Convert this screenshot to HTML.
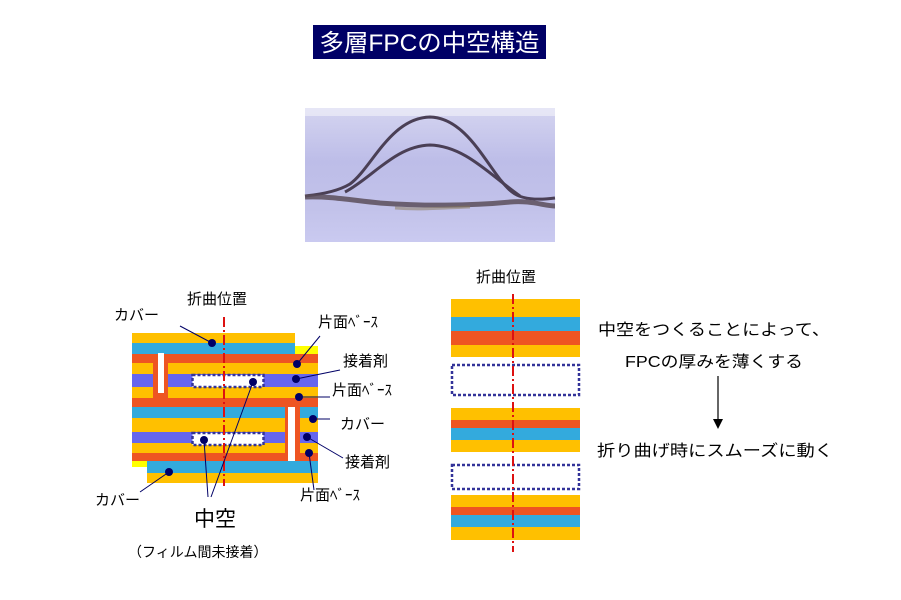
<!DOCTYPE html>
<html><head><meta charset="utf-8"><style>
html,body{margin:0;padding:0;background:#fff;}
svg{display:block;font-family:"Liberation Sans","Noto Sans CJK JP",sans-serif;}
</style></head><body>
<svg width="901" height="600" viewBox="0 0 901 600" xmlns="http://www.w3.org/2000/svg">
<defs>
<linearGradient id="bg" x1="0" y1="0" x2="0" y2="1">
<stop offset="0" stop-color="#d4d4f0"/><stop offset="0.4" stop-color="#bdbde8"/><stop offset="0.75" stop-color="#c2c2ea"/><stop offset="1" stop-color="#cacaf0"/>
</linearGradient>
</defs>
<!-- title -->
<rect x="313" y="25" width="233" height="34" fill="#000066"/>
<text x="429.5" y="51" font-size="24" fill="#fff" text-anchor="middle" textLength="220" lengthAdjust="spacingAndGlyphs">多層FPCの中空構造</text>
<!-- photo -->
<rect x="305" y="108" width="250" height="134" fill="url(#bg)"/>
<rect x="305" y="108" width="250" height="8" fill="#eeeef8" opacity="0.7"/>
<path d="M305,196 C325,194 340,190 350,184 C372,168 390,118 430,117 C470,118 490,175 512,192 C522,200 540,200 555,198" fill="none" stroke="#4a3f55" stroke-width="3"/>
<path d="M345,192 C372,178 395,146 430,145 C465,146 490,175 520,196" fill="none" stroke="#4a3f55" stroke-width="3"/>
<path d="M305,197 C330,196 350,200 380,203 C420,206 470,206 510,202 C530,200 545,206 555,206" fill="none" stroke="#5a4d5a" stroke-width="5" opacity="0.85"/>
<path d="M395,208 C420,210 440,208 470,207" fill="none" stroke="#8a7a55" stroke-width="3" opacity="0.5"/>

<!-- left diagram -->
<g>
<rect x="132" y="333" width="163" height="10" fill="#ffc000"/>
<rect x="132" y="343" width="163" height="11" fill="#33aadd"/>
<rect x="295" y="346" width="23" height="8" fill="#ffff00"/>
<rect x="132" y="354" width="186" height="9" fill="#ee5522"/>
<rect x="132" y="363" width="186" height="11" fill="#ffc000"/>
<rect x="132" y="374" width="186" height="13" fill="#6666ee"/>
<rect x="132" y="387" width="186" height="11" fill="#ffc000"/>
<rect x="132" y="398" width="186" height="9" fill="#ee5522"/>
<rect x="132" y="407" width="186" height="11" fill="#33aadd"/>
<rect x="132" y="418" width="186" height="14" fill="#ffc000"/>
<rect x="132" y="432" width="186" height="11" fill="#6666ee"/>
<rect x="132" y="443" width="186" height="10" fill="#ffc000"/>
<rect x="132" y="453" width="186" height="8" fill="#ee5522"/>
<rect x="132" y="461" width="15" height="6" fill="#ffff00"/>
<rect x="147" y="461" width="171" height="12" fill="#33aadd"/>
<rect x="147" y="473" width="171" height="10" fill="#ffc000"/>
<rect x="153" y="354" width="15" height="53" fill="#ee5522"/>
<rect x="158" y="353" width="6" height="40" fill="#fff"/>
<rect x="285" y="403" width="15" height="58" fill="#ee5522"/>
<rect x="288" y="407" width="7" height="54" fill="#fff"/>
<rect x="192.5" y="375" width="71" height="12" fill="#fff" stroke="#333399" stroke-width="2.5" stroke-dasharray="3,2"/>
<rect x="192.5" y="433" width="71" height="12" fill="#fff" stroke="#333399" stroke-width="2.5" stroke-dasharray="3,2"/>
<line x1="224" y1="317" x2="224" y2="486" stroke="#dd1111" stroke-width="2" stroke-dasharray="10,3,2,3"/>
<g stroke="#000066" stroke-width="1" fill="none">
<line x1="180" y1="326" x2="212" y2="343"/>
<line x1="320" y1="336" x2="297" y2="364"/>
<line x1="340" y1="370" x2="296" y2="379"/>
<line x1="330" y1="397" x2="299" y2="397"/>
<line x1="330" y1="419" x2="313" y2="419"/>
<line x1="343" y1="458" x2="307" y2="437"/>
<line x1="314" y1="490" x2="309" y2="453"/>
<line x1="140" y1="492" x2="169" y2="472"/>
<line x1="208" y1="497" x2="204" y2="440"/>
<line x1="211" y1="497" x2="253" y2="382"/>
</g>
<g fill="#000066">
<circle cx="212" cy="343" r="4"/><circle cx="297" cy="364" r="4"/><circle cx="296" cy="379" r="4"/>
<circle cx="299" cy="397" r="4"/><circle cx="313" cy="419" r="4"/><circle cx="307" cy="437" r="4"/>
<circle cx="309" cy="453" r="4"/><circle cx="169" cy="472" r="4"/><circle cx="253" cy="382" r="4"/>
<circle cx="204" cy="440" r="4"/>
</g>
</g>
<g font-size="15" fill="#000">
<text x="114" y="320">カバー</text>
<text x="187" y="304">折曲位置</text>
<text x="318" y="327">片面ﾍﾞｰｽ</text>
<text x="343" y="366">接着剤</text>
<text x="332" y="395">片面ﾍﾞｰｽ</text>
<text x="340" y="429">カバー</text>
<text x="345" y="467">接着剤</text>
<text x="300" y="500">片面ﾍﾞｰｽ</text>
<text x="95" y="505">カバー</text>
<text x="476" y="282">折曲位置</text>
<text x="128" y="557" font-size="14">（フィルム間未接着）</text>
</g>
<text x="194" y="526" font-size="21" fill="#000">中空</text>

<!-- right stack -->
<rect x="451" y="299" width="129" height="18" fill="#ffc000"/>
<rect x="451" y="317" width="129" height="14" fill="#33aadd"/>
<rect x="451" y="331" width="129" height="14" fill="#ee5522"/>
<rect x="451" y="345" width="129" height="12" fill="#ffc000"/>
<rect x="452" y="365" width="127" height="30" fill="none" stroke="#333399" stroke-width="2.5" stroke-dasharray="3,2"/>
<rect x="451" y="408" width="129" height="12" fill="#ffc000"/>
<rect x="451" y="420" width="129" height="8" fill="#ee5522"/>
<rect x="451" y="428" width="129" height="12" fill="#33aadd"/>
<rect x="451" y="440" width="129" height="12" fill="#ffc000"/>
<rect x="452" y="465" width="127" height="24" fill="none" stroke="#333399" stroke-width="2.5" stroke-dasharray="3,2"/>
<rect x="451" y="495" width="129" height="12" fill="#ffc000"/>
<rect x="451" y="507" width="129" height="8" fill="#ee5522"/>
<rect x="451" y="515" width="129" height="12" fill="#33aadd"/>
<rect x="451" y="527" width="129" height="13" fill="#ffc000"/>
<line x1="513" y1="294" x2="513" y2="552" stroke="#dd1111" stroke-width="2" stroke-dasharray="10,3,2,3"/>

<g font-size="16" fill="#000">
<text x="598" y="335" textLength="232" lengthAdjust="spacingAndGlyphs">中空をつくることによって、</text>
<text x="625" y="367" textLength="178" lengthAdjust="spacingAndGlyphs">FPCの厚みを薄くする</text>
<text x="597" y="456" textLength="236" lengthAdjust="spacingAndGlyphs">折り曲げ時にスムーズに動く</text>
</g>
<line x1="718" y1="376" x2="718" y2="420" stroke="#000" stroke-width="1.2"/>
<polygon points="713,419 723,419 718,429" fill="#000"/>
</svg>
</body></html>
